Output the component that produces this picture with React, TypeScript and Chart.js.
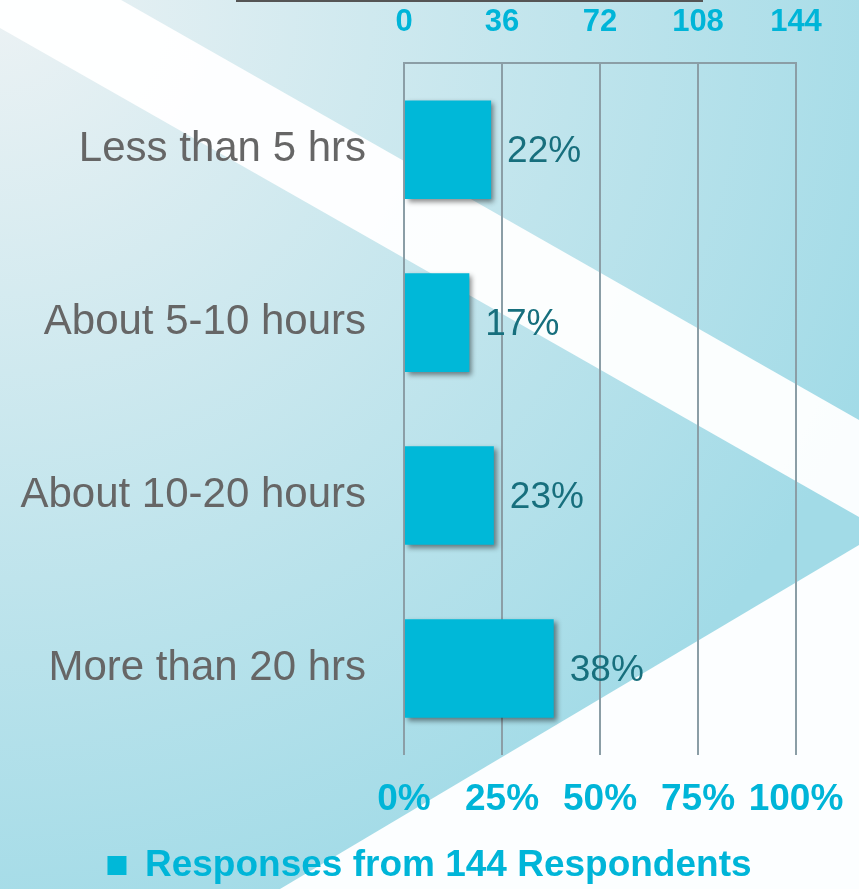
import React, { useEffect, useRef } from "react";
import { Chart, registerables } from "chart.js";

Chart.register(...registerables);

const categories = ["Less than 5 hrs", "About 5-10 hours", "About 10-20 hours", "More than 20 hrs"];
const responseCounts = [32, 24, 33, 55];
const percentLabels = ["22%", "17%", "23%", "38%"];
const countTicks = [0, 36, 72, 108, 144];
const percentTicks = [0, 25, 50, 75, 100];
const seriesName = "Responses from 144 Respondents";

const FONT = "'Liberation Sans', Arial, sans-serif";
const CYAN = "#00b5d8";

const backgroundPlugin = {
  id: "bgDeco",
  beforeDraw(chart: any) {
    const { ctx, width, height } = chart;
    ctx.save();
    const g = ctx.createRadialGradient(0, 0, 0, 0, 0, 950);
    g.addColorStop(0, "#ecf2f4");
    g.addColorStop(1, "#a2dbe7");
    ctx.fillStyle = g;
    ctx.fillRect(0, 0, width, height);
    // white diagonal band
    ctx.fillStyle = "rgba(255,255,255,0.95)";
    ctx.beginPath();
    ctx.moveTo(0, -69);
    ctx.lineTo(width, 420);
    ctx.lineTo(width, 517);
    ctx.lineTo(0, 28);
    ctx.closePath();
    ctx.fill();
    // lower right white area
    ctx.fillStyle = "rgba(255,255,255,0.97)";
    ctx.beginPath();
    ctx.moveTo(width, 545);
    ctx.lineTo(width, height);
    ctx.lineTo(280, height);
    ctx.closePath();
    ctx.fill();
    // box at the top edge
    ctx.strokeStyle = "#555";
    ctx.lineWidth = 2;
    ctx.strokeRect(237, -20, 465, 21);
    ctx.restore();
  },
};

const barDecoPlugin = {
  id: "barDeco",
  beforeDatasetsDraw(chart: any) {
    const ctx = chart.ctx;
    ctx.save();
    ctx.shadowColor = "rgba(0,0,0,0.45)";
    ctx.shadowBlur = 5;
    ctx.shadowOffsetX = 3;
    ctx.shadowOffsetY = 3;
  },
  afterDatasetsDraw(chart: any) {
    const ctx = chart.ctx;
    ctx.restore();
    ctx.save();
    ctx.font = `37px ${FONT}`;
    ctx.fillStyle = "#176f7d";
    ctx.textAlign = "left";
    ctx.textBaseline = "middle";
    const meta = chart.getDatasetMeta(0);
    meta.data.forEach((bar: any, i: number) => {
      ctx.fillText(percentLabels[i], bar.x + 16, bar.y + 2);
    });
    ctx.restore();
  },
};

export default function App() {
  const ref = useRef<HTMLCanvasElement>(null);
  useEffect(() => {
    if (!ref.current) return;
    const chart = new Chart(ref.current, {
      type: "bar",
      data: {
        labels: categories,
        datasets: [
          {
            label: seriesName,
            data: responseCounts,
            backgroundColor: "#00b8d8",
            borderWidth: 0,
            barPercentage: 0.57,
            categoryPercentage: 1,
            xAxisID: "x",
          },
        ],
      },
      options: {
        indexAxis: "y",
        animation: false,
        responsive: false,
        layout: { padding: { left: 0, right: 0, top: 0, bottom: -5 } },
        scales: {
          x: {
            type: "linear",
            position: "top",
            min: countTicks[0],
            max: countTicks[countTicks.length - 1],
            afterBuildTicks: (scale: any) => {
              scale.ticks = countTicks.map((v) => ({ value: v }));
            },
            afterFit: (scale: any) => {
              scale.height = 63;
              scale.paddingRight = 63;
            },
            ticks: {
              color: CYAN,
              font: { family: FONT, size: 31, weight: "bold" },
              padding: 22,
              maxRotation: 0,
              minRotation: 0,
              autoSkip: false,
            },
            grid: { color: "#8b9ea6", lineWidth: 2, drawTicks: false },
            border: { display: true, color: "#8b9ea6", width: 2 },
          },
          x2: {
            type: "linear",
            position: "bottom",
            min: percentTicks[0],
            max: percentTicks[percentTicks.length - 1],
            afterBuildTicks: (scale: any) => {
              scale.ticks = percentTicks.map((v) => ({ value: v }));
            },
            afterFit: (scale: any) => {
              scale.height = 82;
              scale.paddingRight = 63;
            },
            ticks: {
              color: CYAN,
              font: { family: FONT, size: 37, weight: "bold" },
              padding: 23,
              maxRotation: 0,
              minRotation: 0,
              autoSkip: false,
              callback: (v: any) => `${v}%`,
            },
            grid: { display: false, drawTicks: false },
            border: { display: false },
          },
          y: {
            type: "category",
            afterFit: (scale: any) => {
              scale.width = 404;
            },
            ticks: {
              color: "#666666",
              font: { family: FONT, size: 42 },
              padding: 38,
            },
            grid: { display: false, drawTicks: false },
            border: { display: false },
          },
        },
        plugins: {
          legend: {
            display: true,
            position: "bottom",
            labels: {
              color: CYAN,
              font: { family: FONT, size: 37, weight: "bold" },
              boxWidth: 19,
              boxHeight: 19,
              padding: 10,
            },
          },
          tooltip: { enabled: false },
        },
      } as any,
      plugins: [backgroundPlugin, barDecoPlugin],
    });
    return () => chart.destroy();
  }, []);
  return (
    <div style={{ position: "fixed", left: 0, top: 0, width: 859, height: 889 }}>
      <canvas ref={ref} width={859} height={889} style={{ width: 859, height: 889, display: "block" }} />
    </div>
  );
}
